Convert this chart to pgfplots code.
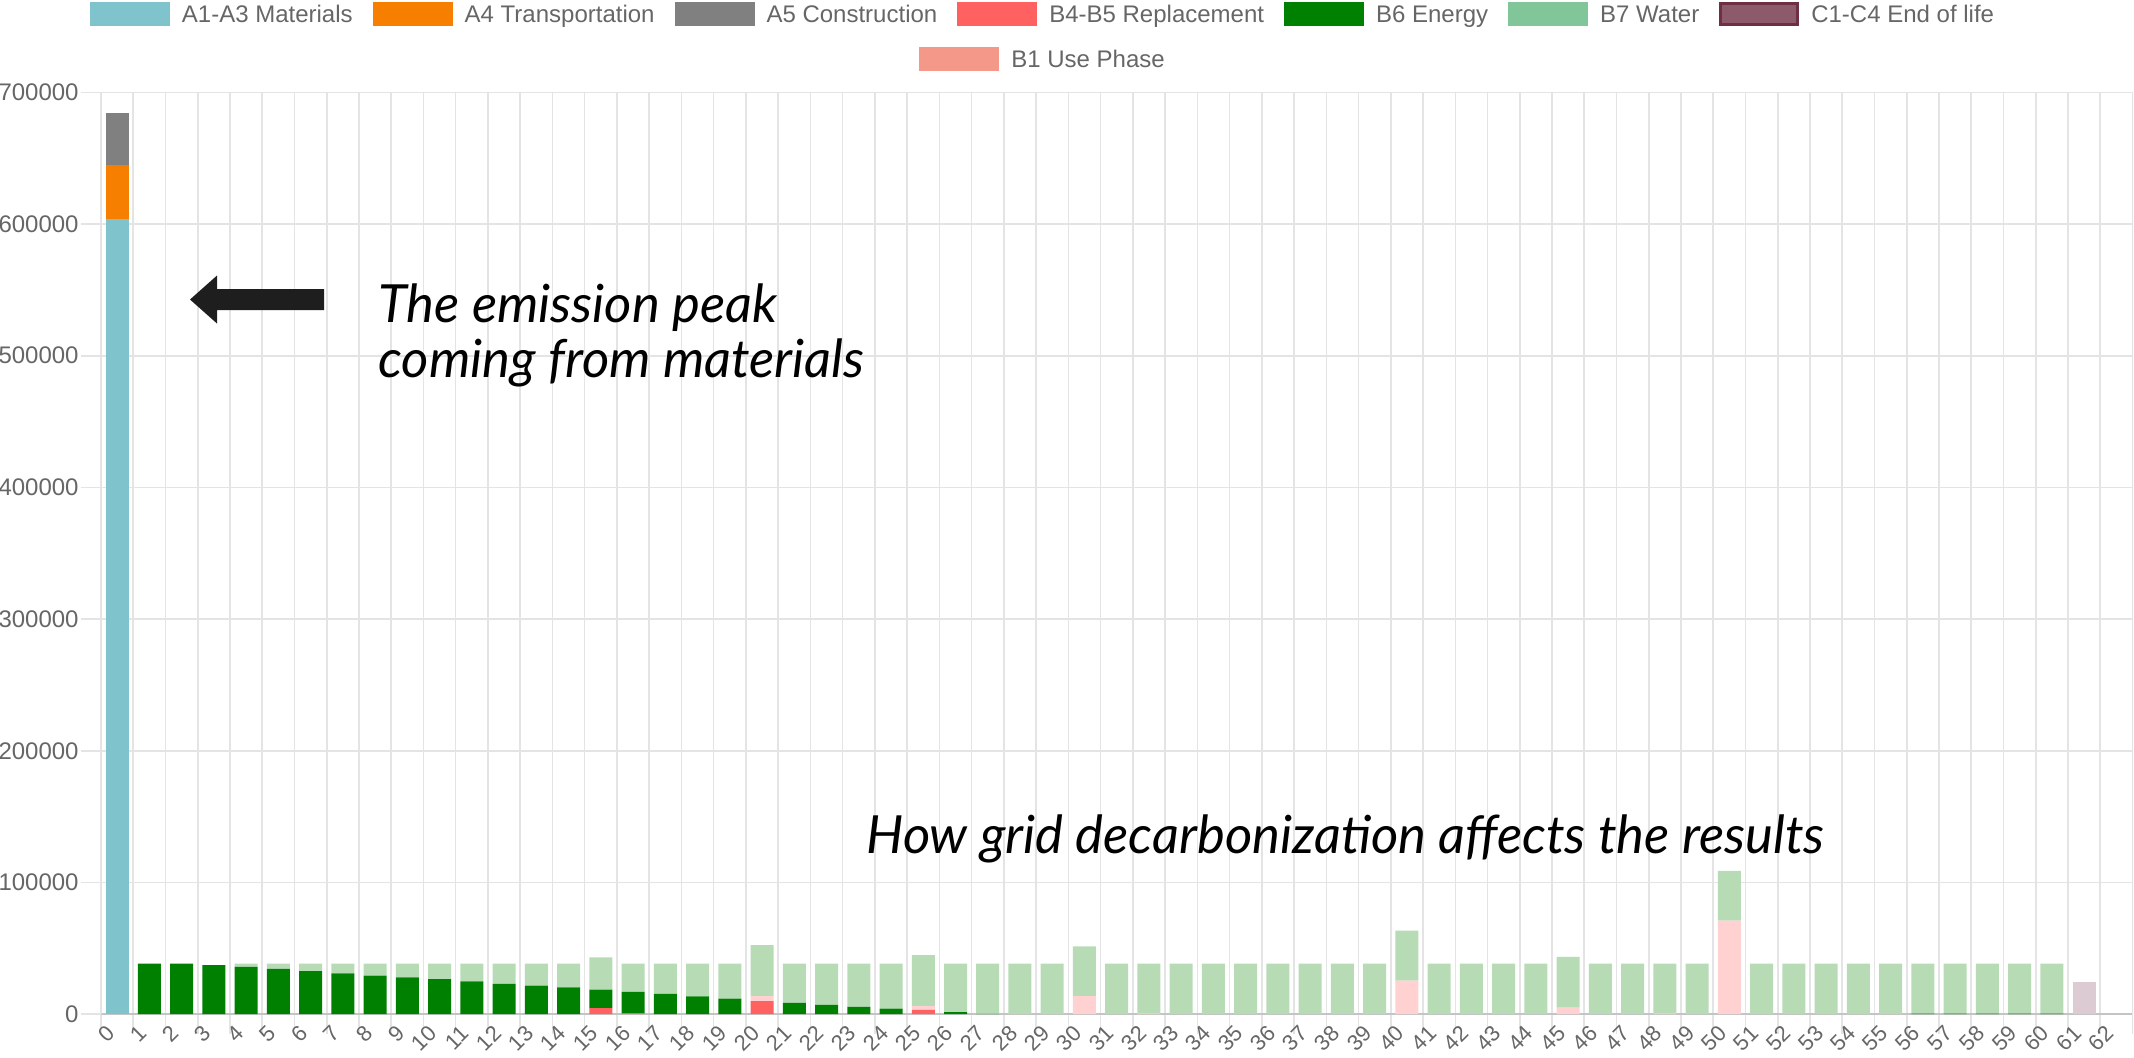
\documentclass[border=0pt]{standalone}
\usepackage{fontspec}
\setmainfont{Liberation Sans}
\newfontfamily\lato{Lato}
\usepackage{pgfplots}
\usepackage{pgfplotstable}
\pgfplotsset{compat=1.18}

\definecolor{cA13}{HTML}{7FC4CC}
\definecolor{cA4}{HTML}{F77F00}
\definecolor{cA5}{HTML}{808080}
\definecolor{cB45}{HTML}{FF6161}
\definecolor{cB6}{HTML}{008000}
\definecolor{cB7leg}{HTML}{80C699}
\definecolor{cB7}{HTML}{B6DBB5}
\definecolor{cC14leg}{HTML}{8C5A6A}
\definecolor{cC14brd}{HTML}{6E2F45}
\definecolor{cC14}{HTML}{DCCBD3}
\definecolor{cB1leg}{HTML}{F4998A}
\definecolor{cB1}{HTML}{FFD1D0}
\definecolor{tickgray}{HTML}{666666}
\definecolor{gridgray}{HTML}{E4E4E4}
\definecolor{zerogray}{HTML}{C4C4C4}
\definecolor{arrowblack}{HTML}{1E1E1E}

\pgfplotstableread{
x A13 A4 A5 B45 B1 B6 B7 C14
0 603600 41200 39200 0 0 0 0 0
1 0 0 0 0 0 38500 0 0
2 0 0 0 0 0 38500 0 0
3 0 0 0 0 0 37200 0 0
4 0 0 0 0 0 36000 2500 0
5 0 0 0 0 0 34400 4100 0
6 0 0 0 0 0 32800 5700 0
7 0 0 0 0 0 31100 7400 0
8 0 0 0 0 0 29400 9100 0
9 0 0 0 0 0 27900 10600 0
10 0 0 0 0 0 26600 11900 0
11 0 0 0 0 0 24900 13600 0
12 0 0 0 0 0 23100 15400 0
13 0 0 0 0 0 21700 16800 0
14 0 0 0 0 0 20400 18100 0
15 0 0 0 4600 0 14100 24400 0
16 0 0 0 800 0 16100 21600 0
17 0 0 0 0 0 15400 23100 0
18 0 0 0 0 0 13600 24900 0
19 0 0 0 0 0 11900 26600 0
20 0 0 0 10000 4000 0 38500 0
21 0 0 0 0 0 8700 29800 0
22 0 0 0 0 0 7100 31400 0
23 0 0 0 0 0 5600 32900 0
24 0 0 0 0 0 4300 34200 0
25 0 0 0 3300 3000 0 38500 0
26 0 0 0 0 0 1600 36900 0
27 0 0 0 0 0 300 38200 0
28 0 0 0 0 0 0 38500 0
29 0 0 0 0 0 0 38500 0
30 0 0 0 0 14000 0 37500 0
31 0 0 0 0 0 0 38500 0
32 0 0 0 0 700 0 37800 0
33 0 0 0 0 0 0 38500 0
34 0 0 0 0 0 0 38500 0
35 0 0 0 0 0 0 38500 0
36 0 0 0 0 0 0 38500 0
37 0 0 0 0 0 0 38500 0
38 0 0 0 0 0 0 38500 0
39 0 0 0 0 0 0 38500 0
40 0 0 0 0 25500 0 38000 0
41 0 0 0 0 0 0 38500 0
42 0 0 0 0 0 0 38500 0
43 0 0 0 0 0 0 38500 0
44 0 0 0 0 0 0 38500 0
45 0 0 0 0 5000 0 38500 0
46 0 0 0 0 0 0 38500 0
47 0 0 0 0 0 0 38500 0
48 0 0 0 0 700 0 37800 0
49 0 0 0 0 0 0 38500 0
50 0 0 0 0 71000 0 37800 0
51 0 0 0 0 0 0 38500 0
52 0 0 0 0 0 0 38500 0
53 0 0 0 0 0 0 38500 0
54 0 0 0 0 0 0 38500 0
55 0 0 0 0 0 0 38500 0
56 0 0 0 0 0 400 38100 0
57 0 0 0 0 0 400 38100 0
58 0 0 0 0 0 400 38100 0
59 0 0 0 0 0 400 38100 0
60 0 0 0 0 0 400 38100 0
61 0 0 0 0 0 0 0 24500
62 0 0 0 0 0 0 0 0
}\datatable

\newcommand{\legbox}[1]{\textcolor{#1}{\rule[-1.7pt]{40pt}{12pt}}\hspace{6pt}}
\newcommand{\legboxb}[2]{\rlap{\textcolor{#2}{\rule[-1.7pt]{40pt}{12pt}}}\hspace{1.5pt}\textcolor{#1}{\rule[-0.2pt]{37pt}{9pt}}\hspace{1.5pt}\hspace{6pt}}

\begin{document}
\begin{tikzpicture}
\useasboundingbox (0,0) rectangle (1067pt,-528.5pt);
\begin{axis}[
  at={(50.5pt,-507.1pt)}, anchor=south west,
  scale only axis,
  width=1015.8pt, height=460.95pt,
  ybar stacked,
  bar width=11.5pt,
  xmin=-0.5, xmax=62.5,
  ymin=0, ymax=700000,
  enlargelimits=false,
  axis lines*=left,
  x axis line style={color=zerogray, line width=1pt},
  y axis line style={color=gridgray, line width=0.8pt},
  xtick={0,...,62},
  minor xtick={-0.5,0.5,...,62.5},
  ytick={0,100000,...,700000},
  xmajorgrids=false,
  xminorgrids=true,
  ymajorgrids=true,
  major grid style={color=gridgray, line width=0.8pt},
  minor grid style={color=gridgray, line width=0.8pt},
  tick align=outside,
  major tick length=10pt,
  minor tick length=10pt,
  major x tick style={draw=none},
  minor x tick style={color=gridgray, line width=0.8pt},
  ytick style={color=gridgray, line width=0.8pt},
  scaled y ticks=false,
  /pgf/number format/fixed,
  /pgf/number format/1000 sep={},
  /pgf/number format/assume math mode=true,
  yticklabel style={font=\fontsize{12}{12}\selectfont, text=tickgray, inner sep=1pt},
  xticklabel style={font=\fontsize{11}{11}\selectfont, text=tickgray, rotate=45, anchor=east, inner sep=0.5pt, yshift=4pt},
  every axis plot/.append style={draw=none},
]
\addplot[fill=cA13] table[x=x,y=A13]{\datatable};
\addplot[fill=cA4] table[x=x,y=A4]{\datatable};
\addplot[fill=cA5] table[x=x,y=A5]{\datatable};
\addplot[fill=cB45] table[x=x,y=B45]{\datatable};
\addplot[fill=cB1] table[x=x,y=B1]{\datatable};
\addplot[fill=cB6] table[x=x,y=B6]{\datatable};
\addplot[fill=cB7] table[x=x,y=B7]{\datatable};
\addplot[fill=cC14] table[x=x,y=C14]{\datatable};
\end{axis}

\begin{scope}[x=0.5pt,y=-0.5pt]
% legend
\node[inner sep=0pt, anchor=center, text=tickgray, font=\fontsize{12}{12}\selectfont] at (1042,15)
  {\legbox{cA13}A1-A3 Materials\hspace{10pt}\legbox{cA4}A4 Transportation\hspace{10pt}\legbox{cA5}A5 Construction\hspace{10pt}\legbox{cB45}B4-B5 Replacement\hspace{10pt}\legbox{cB6}B6 Energy\hspace{10pt}\legbox{cB7leg}B7 Water\hspace{10pt}\legboxb{cC14leg}{cC14brd}C1-C4 End of life};
\node[inner sep=0pt, anchor=center, text=tickgray, font=\fontsize{12}{12}\selectfont] at (1042,59)
  {\legbox{cB1leg}B1 Use Phase};
% arrow
\fill[arrowblack] (190,299.5) -- (217,275.5) -- (217,289) -- (324,289) -- (324,310) -- (217,310) -- (217,323.5) -- cycle;
% annotations
\node[anchor=base west, inner sep=0pt, font=\lato\itshape\fontsize{26.3}{26.3}\selectfont] at (378,322) {The emission peak};
\node[anchor=base west, inner sep=0pt, font=\lato\itshape\fontsize{26.3}{26.3}\selectfont] at (378,377) {coming from materials};
\node[anchor=base west, inner sep=0pt, font=\lato\itshape\fontsize{26.3}{26.3}\selectfont] at (866,853) {How grid decarbonization affects the results};
\end{scope}
\end{tikzpicture}
\end{document}
